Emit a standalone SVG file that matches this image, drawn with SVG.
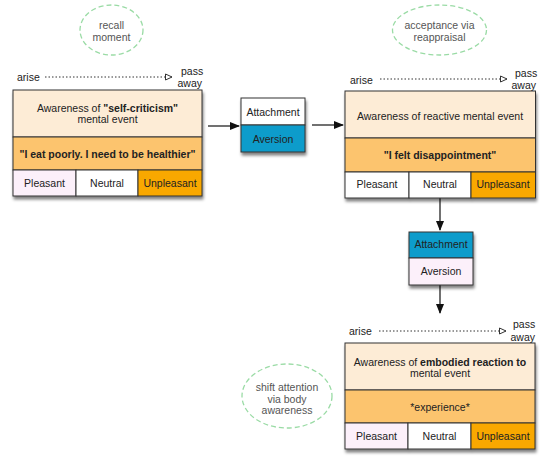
<svg xmlns="http://www.w3.org/2000/svg" width="550" height="465" viewBox="0 0 550 465">
<defs>
<style>
text{font-family:"Liberation Sans",Arial,sans-serif;font-size:10.5px;fill:#222;}
.c{text-anchor:middle;}
.b{font-weight:bold;}
.g{fill:#555;}
.box{stroke:#333;stroke-width:1;}
.top{fill:#fdecd6;}
.band{fill:#fcc46e;}
.pl{fill:#fcf0fa;}
.wh{fill:#ffffff;}
.un{fill:#f9a800;}
.blue{fill:#109ccb;}
.ell{fill:none;stroke:#9adba5;stroke-width:1.3;stroke-dasharray:5,3;}
.dot{stroke:#333;stroke-width:1;stroke-dasharray:1.5,2;fill:none;}
.con{stroke:#111;stroke-width:1.2;fill:none;}
</style>
<filter id="sh" x="-10%" y="-10%" width="130%" height="140%">
<feGaussianBlur in="SourceAlpha" stdDeviation="1.5"/>
<feOffset dx="1" dy="3" result="o"/>
<feComponentTransfer><feFuncA type="linear" slope="0.5"/></feComponentTransfer>
<feMerge><feMergeNode/><feMergeNode in="SourceGraphic"/></feMerge>
</filter>
<marker id="ah" markerWidth="10" markerHeight="8" refX="9" refY="4" orient="auto" markerUnits="userSpaceOnUse">
<path d="M0,0 L10,4 L0,8 z" fill="#111"/>
</marker>
<marker id="oh" markerWidth="8" markerHeight="8" refX="7" refY="4" orient="auto" markerUnits="userSpaceOnUse">
<path d="M0.5,1 L7,4 L0.5,7 z" fill="#fff" stroke="#333" stroke-width="1"/>
</marker>
</defs>

<g id="connectors">
<line class="con" x1="208" y1="126" x2="239" y2="126" marker-end="url(#ah)"/>
<line class="con" x1="312" y1="125" x2="343" y2="125" marker-end="url(#ah)"/>
<line class="con" x1="440" y1="198" x2="440" y2="230" marker-end="url(#ah)"/>
<line class="con" x1="440" y1="285" x2="440" y2="313" marker-end="url(#ah)"/>
</g>

<g id="note-recall">
<ellipse class="ell" cx="111.5" cy="30" rx="31.5" ry="25"/>
<text class="c g" x="111.5" y="29">recall</text>
<text class="c g" x="111.5" y="41">moment</text>
</g>

<g id="note-acceptance">
<ellipse class="ell" cx="439.5" cy="30" rx="47" ry="25"/>
<text class="c g" x="439.5" y="29">acceptance via</text>
<text class="c g" x="439.5" y="41">reappraisal</text>
</g>

<g id="note-shift">
<ellipse class="ell" cx="287" cy="396" rx="45" ry="32"/>
<text class="c g" x="287" y="390.5">shift attention</text>
<text class="c g" x="287" y="402.5">via body</text>
<text class="c g" x="287" y="413.5">awareness</text>
</g>

<g id="timeline-1">
<text x="17" y="81">arise</text>
<line class="dot" x1="45" y1="77" x2="172" y2="77" marker-end="url(#oh)"/>
<text x="181" y="75">pass</text>
<text x="202" y="87" text-anchor="end">away</text>
</g>

<g id="event-1" filter="url(#sh)">
<rect class="box top" x="13" y="90" width="189" height="47"/>
<rect class="box band" x="13" y="137" width="189" height="33"/>
<rect class="box pl" x="13" y="170" width="63" height="26"/>
<rect class="box wh" x="76" y="170" width="62" height="26"/>
<rect class="box un" x="138" y="170" width="64" height="26"/>
</g>
<g id="event-1-text">
<text class="c" x="107.5" y="112">Awareness of <tspan class="b">"self-criticism"</tspan></text>
<text class="c" x="107.5" y="123">mental event</text>
<text class="c b" x="107.5" y="158">"I eat poorly. I need to be healthier"</text>
<text class="c" x="44.5" y="187">Pleasant</text>
<text class="c" x="107" y="187">Neutral</text>
<text class="c" x="170" y="187">Unpleasant</text>
</g>

<g id="reaction-1">
<g filter="url(#sh)">
<rect class="box wh" x="241" y="98" width="64" height="27"/>
<rect class="box blue" x="241" y="125" width="64" height="27"/>
</g>
<text class="c" x="273" y="115.5">Attachment</text>
<text class="c" x="273" y="143">Aversion</text>
</g>

<g id="timeline-2">
<text x="350" y="84">arise</text>
<line class="dot" x1="380" y1="79" x2="507" y2="79" marker-end="url(#oh)"/>
<text x="515" y="77">pass</text>
<text x="536" y="89" text-anchor="end">away</text>
</g>

<g id="event-2">
<g filter="url(#sh)">
<rect class="box top" x="345" y="91" width="190.5" height="47"/>
<rect class="box band" x="345" y="138" width="190.5" height="34"/>
<rect class="box wh" x="345" y="172" width="64" height="26"/>
<rect class="box wh" x="409" y="172" width="62" height="26"/>
<rect class="box un" x="471" y="172" width="64.5" height="26"/>
</g>
<text class="c" x="440" y="119.5">Awareness of reactive mental event</text>
<text class="c b" x="440" y="159">"I felt disappointment"</text>
<text class="c" x="377" y="188">Pleasant</text>
<text class="c" x="440" y="188">Neutral</text>
<text class="c" x="503" y="188">Unpleasant</text>
</g>

<g id="reaction-2">
<g filter="url(#sh)">
<rect class="box blue" x="409" y="232" width="64" height="26"/>
<rect class="box pl" x="409" y="258" width="64" height="27"/>
</g>
<text class="c" x="441" y="248">Attachment</text>
<text class="c" x="441" y="275">Aversion</text>
</g>

<g id="timeline-3">
<text x="349" y="335">arise</text>
<line class="dot" x1="379" y1="331" x2="506" y2="331" marker-end="url(#oh)"/>
<text x="513" y="328">pass</text>
<text x="535" y="341" text-anchor="end">away</text>
</g>

<g id="event-3">
<g filter="url(#sh)">
<rect class="box top" x="345" y="343" width="190" height="47"/>
<rect class="box band" x="345" y="390" width="190" height="33"/>
<rect class="box pl" x="345" y="423" width="63" height="26"/>
<rect class="box wh" x="408" y="423" width="63" height="26"/>
<rect class="box un" x="471" y="423" width="64" height="26"/>
</g>
<text class="c" x="440" y="365.5">Awareness of <tspan class="b">embodied reaction to</tspan></text>
<text class="c" x="440" y="376.5">mental event</text>
<text class="c" x="440" y="411">*experience*</text>
<text class="c" x="376.5" y="440">Pleasant</text>
<text class="c" x="439.5" y="440">Neutral</text>
<text class="c" x="503" y="440">Unpleasant</text>
</g>
</svg>
